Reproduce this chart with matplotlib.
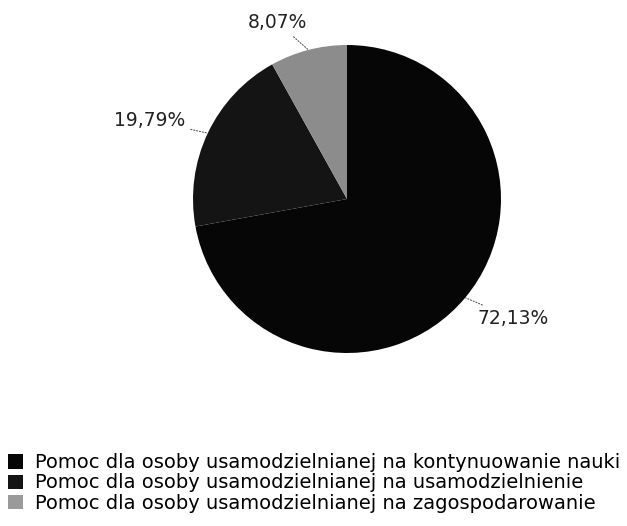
import numpy as np
import matplotlib.pyplot as plt
import matplotlib.patches as mpatches

# Udział form pomocy dla osób usamodzielnianych
labels = [
    "Pomoc dla osoby usamodzielnianej na kontynuowanie nauki",
    "Pomoc dla osoby usamodzielnianej na usamodzielnienie",
    "Pomoc dla osoby usamodzielnianej na zagospodarowanie",
]
shares = [72.13, 19.79, 8.07]
share_text = ["72,13%", "19,79%", "8,07%"]
colors = ["#060606", "#141414", "#8c8c8c"]

W, H = 627, 526
fig = plt.figure(figsize=(W / 100, H / 100), dpi=100)

# pie centre ~ (347, 199) px, radius ~154 px
cx, cy, r = 347, 199, 154
ax = fig.add_axes([(cx - r) / W, (H - cy - r) / H, 2 * r / W, 2 * r / H])
wedges, _ = ax.pie(shares, colors=colors, startangle=90, counterclock=False,
                   radius=1, wedgeprops=dict(linewidth=0))
ax.set_xlim(-1, 1)
ax.set_ylim(-1, 1)
ax.set_aspect("equal")
ax.axis("off")

# label positions (axes data units) and alignment
label_pos = [(0.85, -0.775), (-1.05, 0.51), (-0.45, 1.145)]
label_ha = ["left", "right", "center"]
for w, txt, (tx, ty), ha in zip(wedges, share_text, label_pos, label_ha):
    ang = np.deg2rad((w.theta1 + w.theta2) / 2)
    ex, ey = np.cos(ang), np.sin(ang)
    ax.annotate(txt, xy=(ex, ey), xytext=(tx, ty), ha=ha, va="center",
                fontsize=13.5, color="#222222", annotation_clip=False,
                arrowprops=dict(arrowstyle="-", linestyle=":", color="#555555",
                                lw=0.8, shrinkA=2, shrinkB=0))

handles = [mpatches.Patch(facecolor=c, edgecolor="none") for c in colors]
handles[2].set_facecolor("#9a9a9a")
fig.legend(handles, labels, loc="center left", bbox_to_anchor=(8 / W, 1 - 483 / H),
           frameon=False, fontsize=14, handlelength=0.75, handleheight=0.75,
           handletextpad=0.65, labelspacing=0.06, borderpad=0, borderaxespad=0)

fig.savefig("out.png", dpi=100)
